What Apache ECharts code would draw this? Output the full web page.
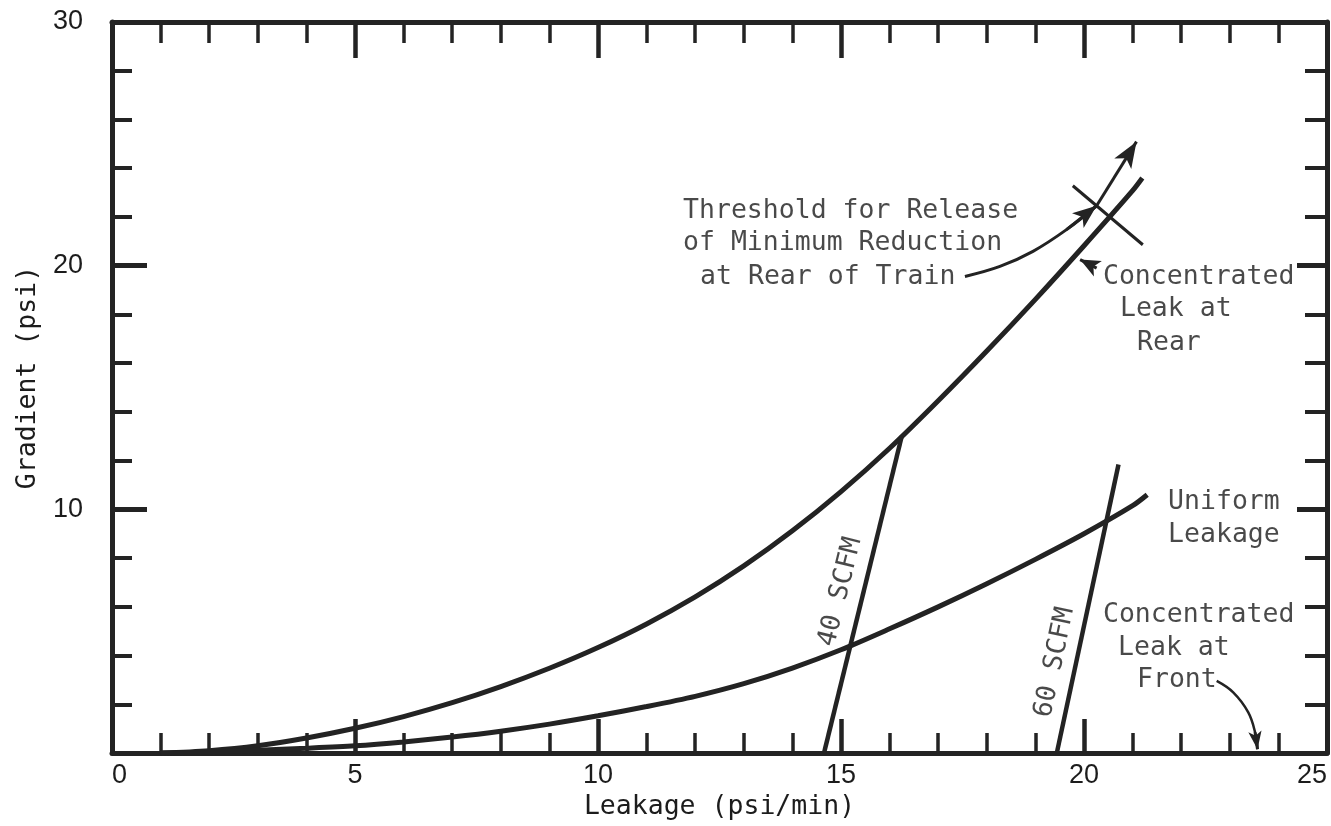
<!DOCTYPE html>
<html>
<head>
<meta charset="utf-8">
<script src="https://cdn.jsdelivr.net/npm/echarts@6/dist/echarts.min.js"></script>
<style>
html,body{margin:0;padding:0;background:#fff;}
#chart{width:1331px;height:826px;}
</style>
</head>
<body>
<div id="chart"></div>
<script>
// ---- data ----
const rearX = [1.0, 2, 3, 4, 5, 6, 7, 8, 9, 10, 11, 12, 13, 14, 15, 16, 17, 18, 19, 20, 21, 21.2];
const rearY = [0, 0.1, 0.3, 0.62, 1.02, 1.5, 2.07, 2.73, 3.48, 4.33, 5.3, 6.41, 7.68, 9.12, 10.73, 12.51, 14.46, 16.5, 18.62, 20.82, 23.08, 23.6];
const uniformX = [1.0, 2, 3, 4, 5, 6, 7, 8, 9, 10, 11, 12, 13, 14, 15, 16, 17, 18, 19, 20, 21, 21.3];
const uniformY = [0, 0.04, 0.12, 0.2, 0.3, 0.46, 0.66, 0.9, 1.19, 1.53, 1.91, 2.33, 2.85, 3.49, 4.24, 5.1, 6.0, 6.95, 7.95, 9.0, 10.15, 10.6];
const scfm40X = [14.65, 16.25];
const scfm40Y = [0, 13.0];
const scfm60X = [19.44, 20.71];
const scfm60Y = [0, 11.84];
const crossX = [19.77, 21.21];
const crossY = [23.28, 20.86];
const thresholdArrowX = [20.26, 21.08];
const thresholdArrowY = [22.46, 25.09];
const leaderX = [17.55, 18.27, 18.95, 19.64, 20.26];
const leaderY = [19.56, 19.97, 20.59, 21.48, 22.46];
const rearPointerX = [20.26, 19.92];
const rearPointerY = [19.9, 20.25];
const frontLeaderX = [22.73, 23.07, 23.38, 23.52, 23.57];
const frontLeaderY = [2.96, 2.49, 1.67, 0.85, 0.16];

const labelTexts = ["Threshold for Release", "of Minimum Reduction", "at Rear of Train",
  "Concentrated", "Leak at", "Rear",
  "Uniform", "Leakage",
  "Concentrated", "Leak at", "Front"];
const labelX = [11.75, 11.75, 12.1, 20.39, 20.74, 21.09, 21.73, 21.73, 20.39, 20.7, 21.09];
const labelY = [22.25, 20.94, 19.55, 19.53, 18.2, 16.84, 10.29, 8.93, 5.66, 4.3, 2.99];

const scfmTexts = ["40 SCFM", "60 SCFM"];
const scfmLabelX = [14.99, 19.4];
const scfmLabelY = [6.61, 3.72];

const xTickValues = [0, 5, 10, 15, 20, 25];
const yTickLabels = ["", "10", "20", "30"];
const xName = "Leakage (psi/min)";
const yName = "Gradient (psi)";

// ---- styles ----
const INK = '#232323';
const TXT = '#1c1c1c';
const MONO = "'DejaVu Sans Mono', 'Liberation Mono', monospace";
const SANS = "'Liberation Sans', Arial, sans-serif";

function pts(xs, ys) { return xs.map((x, i) => [x, ys[i]]); }
function seg(xs, ys, size) {
  return [{ coord: [xs[0], ys[0]] }, { coord: [xs[1], ys[1]], symbolSize: size }];
}

function axisCommon(extra) {
  return Object.assign({
    type: 'value',
    axisLine: { show: true, onZero: false, lineStyle: { color: INK, width: 5 } },
    splitLine: { show: false },
    minorSplitLine: { show: false }
  }, extra);
}

const chart = echarts.init(document.getElementById('chart'), null, { renderer: 'canvas' });

const option = {
  animation: false,
  backgroundColor: '#ffffff',
  grid: { left: 112, right: 4, top: 22, bottom: 72, containLabel: false },
  xAxis: [
    axisCommon({
      min: 0, max: 25, interval: 5, position: 'bottom',
      axisTick: { show: true, inside: true, length: 34, lineStyle: { color: INK, width: 4.5 } },
      minorTick: { show: true, splitNumber: 5, length: 20, lineStyle: { color: INK, width: 3.5 } },
      axisLabel: {
        show: true, margin: 9, color: TXT, fontFamily: SANS, fontSize: 27,
        alignMinLabel: 'left', alignMaxLabel: 'right', showMinLabel: true, showMaxLabel: true,
        formatter: v => (xTickValues.indexOf(v) >= 0 ? String(v) : '')
      },
      name: xName, nameLocation: 'middle', nameGap: 38,
      nameTextStyle: { color: TXT, fontFamily: MONO, fontSize: 26.5 }
    }),
    axisCommon({
      min: 0, max: 25, interval: 5, position: 'top',
      axisTick: { show: true, inside: true, length: 36, lineStyle: { color: INK, width: 4.5 } },
      minorTick: { show: true, splitNumber: 5, length: 21, lineStyle: { color: INK, width: 3.5 } },
      axisLabel: { show: false }
    })
  ],
  yAxis: [
    axisCommon({
      min: 0, max: 30, interval: 10, position: 'left',
      axisTick: { show: true, inside: true, length: 35, lineStyle: { color: INK, width: 5 } },
      minorTick: { show: true, splitNumber: 5, length: 20, lineStyle: { color: INK, width: 4 } },
      axisLabel: {
        show: true, margin: 29, color: TXT, fontFamily: SANS, fontSize: 27,
        formatter: v => yTickLabels[Math.round(v / 10)] || ''
      },
      name: yName, nameLocation: 'middle', nameGap: 68, nameRotate: 90,
      nameTextStyle: { color: TXT, fontFamily: MONO, fontSize: 26.5, padding: [0, 0, 0, 20] }
    }),
    axisCommon({
      min: 0, max: 30, interval: 10, position: 'right',
      axisTick: { show: true, inside: true, length: 30, lineStyle: { color: INK, width: 5 } },
      minorTick: { show: true, splitNumber: 5, length: 22, lineStyle: { color: INK, width: 4 } },
      axisLabel: { show: false }
    })
  ],
  series: [
    {
      name: 'Concentrated Leak at Rear', type: 'line', data: pts(rearX, rearY),
      smooth: 0.3, symbol: 'none', lineStyle: { color: INK, width: 5 }, z: 3
    },
    {
      name: 'Uniform Leakage', type: 'line', data: pts(uniformX, uniformY),
      smooth: 0.3, symbol: 'none', lineStyle: { color: INK, width: 5 }, z: 3
    },
    {
      name: '40 SCFM', type: 'line', data: pts(scfm40X, scfm40Y),
      symbol: 'none', lineStyle: { color: INK, width: 4.5 }, z: 3
    },
    {
      name: '60 SCFM', type: 'line', data: pts(scfm60X, scfm60Y),
      symbol: 'none', lineStyle: { color: INK, width: 4.5 }, z: 3
    },
    {
      name: 'Threshold cross', type: 'line', data: pts(crossX, crossY),
      symbol: 'none', lineStyle: { color: INK, width: 3 }, z: 3,
      markLine: {
        silent: true, animation: false, symbol: ['none', 'arrow'], symbolSize: [13, 20],
        label: { show: false }, emphasis: { disabled: true },
        lineStyle: { color: INK, width: 3, type: 'solid' },
        data: [
          seg(thresholdArrowX, thresholdArrowY, [15, 26]),
          seg(leaderX.slice(3), leaderY.slice(3), [14, 24]),
          seg(rearPointerX, rearPointerY, [13, 20]),
          seg(frontLeaderX.slice(3), frontLeaderY.slice(3), [10, 18])
        ]
      }
    },
    {
      name: 'Threshold leader', type: 'line', data: pts(leaderX, leaderY),
      smooth: 0.4, symbol: 'none', lineStyle: { color: INK, width: 3 }, z: 3
    },
    {
      name: 'Front leader', type: 'line', data: pts(frontLeaderX, frontLeaderY),
      smooth: 0.4, symbol: 'none', lineStyle: { color: INK, width: 2.5 }, z: 3
    },
    {
      name: 'Annotations', type: 'scatter', symbol: 'circle', symbolSize: 0.1,
      itemStyle: { color: 'rgba(0,0,0,0)' }, silent: true, z: 5,
      data: labelTexts.map((t, i) => ({ name: t, value: [labelX[i], labelY[i]] })),
      label: {
        show: true, position: 'inside', align: 'left', verticalAlign: 'middle',
        formatter: p => p.name, color: TXT, fontFamily: MONO, fontSize: 26.5
      }
    },
    {
      name: 'SCFM labels', type: 'scatter', symbol: 'circle', symbolSize: 0.1,
      itemStyle: { color: 'rgba(0,0,0,0)' }, silent: true, z: 5,
      data: scfmTexts.map((t, i) => ({
        name: t, value: [scfmLabelX[i], scfmLabelY[i]],
        label: { rotate: i === 0 ? 76 : 78 }
      })),
      label: {
        show: true, position: 'inside', align: 'center', verticalAlign: 'middle',
        formatter: p => p.name, color: TXT, fontFamily: MONO, fontSize: 26.5
      }
    }
  ]
};

chart.setOption(option);
</script>
</body>
</html>
